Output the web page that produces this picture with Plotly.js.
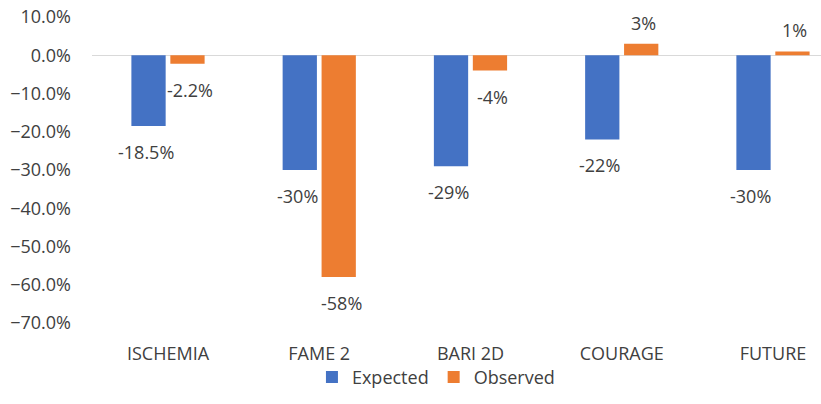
<!DOCTYPE html>
<html><head><meta charset="utf-8">
<script src="https://cdn.plot.ly/plotly-3.0.1.min.js"></script>
<style>html,body{margin:0;padding:0;background:#fff}</style>
</head><body><div id="chart" style="width:821px;height:404px"></div>
<script>
const categories = ["ISCHEMIA", "FAME 2", "BARI 2D", "COURAGE", "FUTURE"];
const expected = [-0.185, -0.30, -0.29, -0.22, -0.30];
const observed = [-0.022, -0.58, -0.04, 0.03, 0.01];
const expectedLabels = ["-18.5%", "-30%", "-29%", "-22%", "-30%"];
const observedLabels = ["-2.2%", "-58%", "-4%", "3%", "1%"];

const font = "'Open Sans', sans-serif";
const textColor = "#404040";

const traces = [
  {type: "bar", name: "Expected", x: categories, y: expected, marker: {color: "#4472C4"}, hoverinfo: "none"},
  {type: "bar", name: "Observed", x: categories, y: observed, marker: {color: "#ED7D31"}, hoverinfo: "none"}
];

const annotations = [];
function addLabels(vals, labels, xs) {
  vals.forEach((v, i) => {
    annotations.push({
      x: categories[i], y: v, xref: "x", yref: "y", text: labels[i], showarrow: false,
      xshift: xs, yshift: v < 0 ? -26 : 21, yanchor: "middle",
      font: {family: font, size: 18, color: textColor}
    });
  });
}
addLabels(expected, expectedLabels, -22);
addLabels(observed, observedLabels, 22);

const layout = {
  width: 821, height: 404,
  margin: {l: 92, r: 0, t: 17, b: 81},
  paper_bgcolor: "#fff", plot_bgcolor: "#fff",
  barmode: "group", bargap: 0.485, bargroupgap: 0.12,
  font: {family: font, size: 18, color: textColor},
  xaxis: {type: "category", range: [-0.5025, 4.3175], showgrid: false, showline: false, ticks: "",
          ticklabelstandoff: 18, tickfont: {family: font, size: 18, color: textColor}},
  yaxis: {range: [-0.7, 0.1], tickvals: [0.1, 0, -0.1, -0.2, -0.3, -0.4, -0.5, -0.6, -0.7],
          tickformat: ".1%", showgrid: false, zeroline: true, zerolinecolor: "#d9d9d9", zerolinewidth: 1,
          ticklabelstandoff: 20, tickfont: {family: font, size: 18, color: textColor}},
  showlegend: true,
  legend: {orientation: "h", xref: "container", yref: "container", x: 0.531, y: 0.066,
           xanchor: "center", yanchor: "middle", bgcolor: "rgba(0,0,0,0)",
           font: {family: font, size: 18, color: textColor},
           itemwidth: 30, tracegroupgap: 0},
  annotations: annotations
};
Plotly.newPlot("chart", traces, layout, {displayModeBar: false, staticPlot: true});
</script></body></html>
